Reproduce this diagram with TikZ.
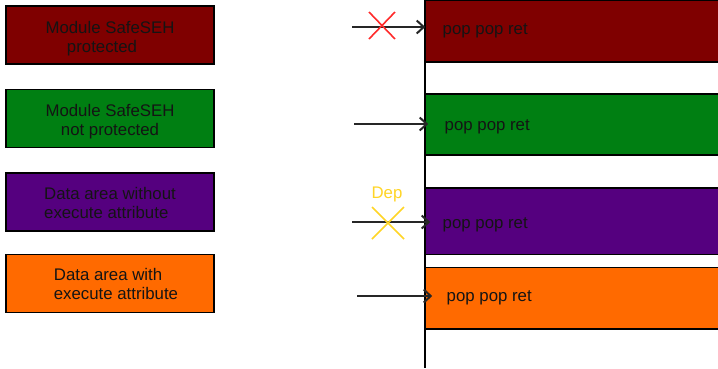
\documentclass[tikz,border=0pt]{standalone}
\usepackage{fontspec}
\setmainfont{Liberation Sans}
\usetikzlibrary{arrows.meta,calc}
\definecolor{safered}{HTML}{7F0000}
\definecolor{safegreen}{HTML}{007F12}
\definecolor{datapurple}{HTML}{55007F}
\definecolor{dataorange}{HTML}{FF6A00}
\definecolor{depyellow}{HTML}{FFD526}
\definecolor{blockred}{HTML}{FF2A2A}
\begin{document}
\begin{tikzpicture}[x=1pt,y=-1pt,
  every node/.style={font=\fontsize{16.8}{19}\selectfont},
  legendbox/.style={draw=black, line width=1.6pt, minimum width=208pt,
    minimum height=58pt, inner sep=0pt, text=black!92},
  bar/.style={draw=black, line width=1.6pt, minimum width=305pt, inner sep=0pt},
  bartext/.style={anchor=west, text=black!92},
  jump/.style={draw=black!85, line width=2pt, -{Straight Barb[length=7pt,width=13pt]}},
  cross/.style={line width=1.6pt},
]
\clip (0,0) rectangle (718,368);
\fill[white] (0,0) rectangle (718,368);

% legend
\node[legendbox, fill=safered, align=center] (l1) at (110,35)
  {\rule{0pt}{19pt}Module SafeSEH\\protected\hspace*{16pt}};
\node[legendbox, fill=safegreen, align=center] (l2) at (110,118.5)
  {\rule{0pt}{19pt}Module SafeSEH\\not protected};
\node[legendbox, fill=datapurple, align=left] (l3) at (110,202)
  {\rule{0pt}{14pt}Data area without\\execute attribute};
\node[legendbox, fill=dataorange, align=left] (l4) at (110,283.5)
  {\hspace*{12pt}Data area with\\\hspace*{12pt}execute attribute};

% memory regions
\coordinate (top) at (425,0);
\coordinate (bottom) at (425,368);
\draw[line width=1.6pt] (top) -- (bottom);

\node[bar, fill=safered, minimum height=61.5pt] (b1) at (577.5,31.25) {};
\node[bar, fill=safegreen, minimum height=61pt] (b2) at (577.5,124.5) {};
\node[bar, fill=datapurple, minimum height=66.5pt] (b3) at (577.5,221.25) {};
\node[bar, fill=dataorange, minimum height=61.5pt] (b4) at (577.5,298.25) {};

\node[bartext] (t1) at ($(b1.west)+(15,0)$) {pop pop ret};
\node[bartext] (t2) at ($(b2.west)+(17,2)$) {pop pop ret};
\node[bartext] (t3) at ($(b3.west)+(15,4)$) {pop pop ret};
\node[bartext] (t4) at ($(b4.west)+(19,0)$) {pop pop ret};

% jumps into the regions
\coordinate (s1) at (352,27);
\coordinate (s2) at (354,124);
\coordinate (s3) at (352,222);
\coordinate (s4) at (357,296);
\draw[jump] (s1) -- ($(s1 -| b1.west)+(1,0)$);
\draw[jump] (s2) -- ($(s2 -| b2.west)+(4,0)$);
\draw[jump] (s3) -- ($(s3 -| b3.west)+(6,0)$);
\draw[jump] (s4) -- ($(s4 -| b4.west)+(8,0)$);

% blocked jumps
\coordinate (x1) at (382,25.5);
\draw[cross, blockred] (x1) +(-13,-13.5) -- +(13,13.5) (x1) +(-13,13.5) -- +(13,-13.5);
\coordinate (x3) at (388,223);
\draw[cross, depyellow] (x3) +(-16,-16) -- +(16,16) (x3) +(-16,16) -- +(16,-16);
\node[text=depyellow] (dep) at (387,194) {Dep};
\end{tikzpicture}
\end{document}
